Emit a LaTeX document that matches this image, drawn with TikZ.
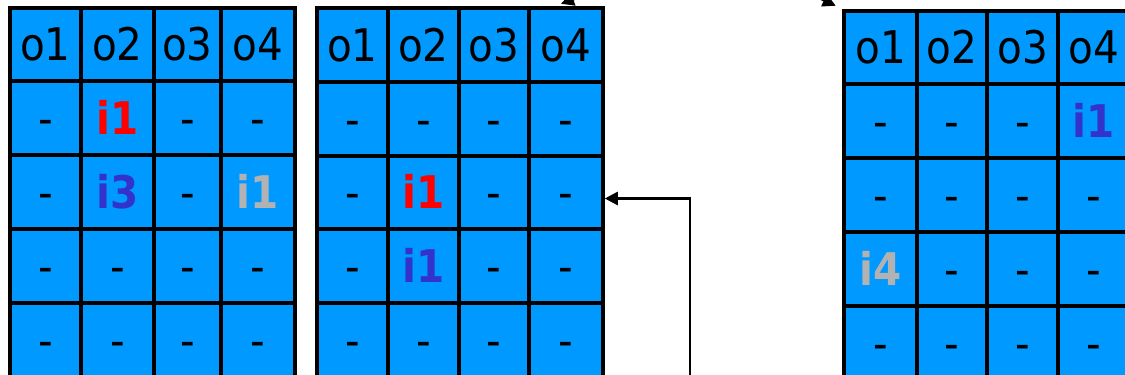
\documentclass[tikz,border=0pt]{standalone}
\usepackage{fontspec}
\setmainfont{DejaVu Sans Condensed}
\usetikzlibrary{arrows.meta}
\definecolor{cellblue}{HTML}{0099FF}
\definecolor{ired}{HTML}{FF0000}
\definecolor{iblue}{HTML}{3333CC}
\definecolor{igray}{HTML}{B2B2B2}
\newcommand\cellcontent[3]{\ifnum#2=0 o#3\else\ifcsname cc#1#2#3\endcsname\csname cc#1#2#3\endcsname\else -\fi\fi}
\expandafter\def\csname ccA12\endcsname{\textcolor{ired}{\bfseries i1}}
\expandafter\def\csname ccA22\endcsname{\textcolor{iblue}{\bfseries i3}}
\expandafter\def\csname ccA24\endcsname{\textcolor{igray}{\bfseries i1}}
\expandafter\def\csname ccB22\endcsname{\textcolor{ired}{\bfseries i1}}
\expandafter\def\csname ccB32\endcsname{\textcolor{iblue}{\bfseries i1}}
\expandafter\def\csname ccC14\endcsname{\textcolor{iblue}{\bfseries i1}}
\expandafter\def\csname ccC31\endcsname{\textcolor{igray}{\bfseries i4}}
\newcommand\drawgrid[3]{%
  \foreach \c/\xa/\xb in {#2}{%
    \foreach \r/\ya/\yb in {#3}{%
      \node[cell, minimum width={(\xb-\xa)*1pt}, minimum height={(\yb-\ya)*1pt}]
        (#1-\r-\c) at ({(\xa+\xb)/2},{-(\ya+\yb)/2}) {\cellcontent{#1}{\r}{\c}};
    }%
  }%
}
\tikzset{
  cell/.style={draw=black, line width=3.5pt, fill=cellblue, inner sep=0pt,
    font=\fontsize{45}{50}\selectfont, text height=32pt, text depth=0pt},
  conn/.style={draw=black, line width=2.5pt, -{Triangle[length=13pt,width=13pt]}}
}
\begin{document}
\begin{tikzpicture}[x=1pt,y=1pt]
\useasboundingbox (0,0) rectangle (1125,-375);
\clip (0,0) rectangle (1125,-375);
\drawgrid{A}{1/10/81, 2/81/154, 3/154/221, 4/221/295}{0/8/81, 1/81/155, 2/155/229, 3/229/303, 4/303/377}
\drawgrid{B}{1/317/388, 2/388/459, 3/459/529, 4/529/603}{0/8/82, 1/82/156, 2/156/229, 3/229/303, 4/303/377}
\drawgrid{C}{1/844/917, 2/917/987, 3/987/1058, 4/1058/1129}{0/11/84, 1/84/158, 2/158/232, 3/232/306, 4/306/380}
\coordinate (src) at (690,-390);
\coordinate (topsrc) at (700,60);
\draw[conn] (src) |- ([yshift=-6pt]B-2-4.east);
\draw[conn] (topsrc) to[out=180, in=20] ([xshift=-5pt,yshift=2.5pt]B-0-4.north);
\draw[conn] (topsrc) to[out=0, in=155] ([xshift=-6.5pt,yshift=3.5pt]C-0-1.north west);
\end{tikzpicture}
\end{document}
